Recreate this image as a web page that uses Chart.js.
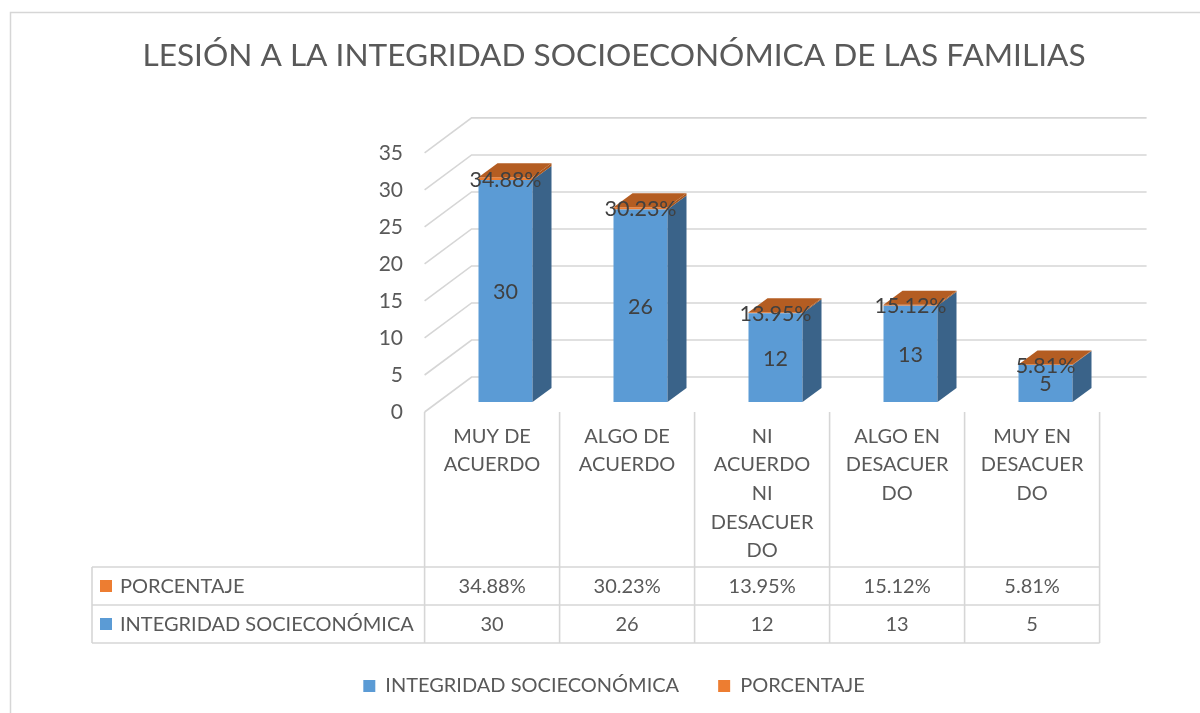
<!DOCTYPE html>
<html>
<head>
<meta charset="utf-8">
<script src="https://cdn.jsdelivr.net/npm/chart.js@4.4.0/dist/chart.umd.min.js"></script>
<style>
  html, body { margin: 0; padding: 0; background: #fff; }
</style>
</head>
<body>
<canvas id="myChart" width="1200" height="713"></canvas>
<script>
// data
const categories = [
  ['MUY DE', 'ACUERDO'],
  ['ALGO DE', 'ACUERDO'],
  ['NI', 'ACUERDO', 'NI', 'DESACUER', 'DO'],
  ['ALGO EN', 'DESACUER', 'DO'],
  ['MUY EN', 'DESACUER', 'DO']
];
const integridad = [30, 26, 12, 13, 5];
const porcentaje = [0.3488, 0.3023, 0.1395, 0.1512, 0.0581];
const yTicks = [0, 5, 10, 15, 20, 25, 30, 35];
const seriesNames = ['INTEGRIDAD SOCIECONÓMICA', 'PORCENTAJE'];
const chartTitle = 'LESIÓN A LA INTEGRIDAD SOCIOECONÓMICA DE LAS FAMILIAS';

const BLUE = '#5B9BD5', BLUE_SIDE = '#3A6389';
const ORANGE = '#ED7D31', ORANGE_SIDE = '#A9561D', ORANGE_TOP = '#B45D22';
const TEXT = '#595959', LABEL = '#404040', GRID = '#D6D6D6';
const FONT = 'Lato';

// fake 3d: offsets of the front plane, back wall and bar depth from the bar plane
const FRONT = { dx: -13.4, dy: 10 };
const BACK = { dx: 33.6, dy: -25 };
const DEPTH = { dx: 19, dy: -14 };

const pct = v => (v * 100).toFixed(2) + '%';

const threeD = {
  id: 'threeD',
  beforeDraw(chart) {
    const ctx = chart.ctx;
    ctx.save();
    ctx.fillStyle = '#fff';
    ctx.fillRect(0, 0, chart.width, chart.height);
    ctx.strokeStyle = GRID;
    ctx.lineWidth = 1.5;
    ctx.strokeRect(10.5, 12.5, 1400, 900);
    ctx.restore();
  },
  beforeDatasetsDraw(chart) {
    const { ctx, chartArea: a, scales: { y } } = chart;
    ctx.save();
    ctx.strokeStyle = GRID;
    ctx.lineWidth = 1.6;
    y.ticks.forEach(t => {
      const py = y.getPixelForValue(t.value);
      ctx.beginPath();
      ctx.moveTo(a.left + FRONT.dx, py + FRONT.dy);
      ctx.lineTo(a.left + BACK.dx, py + BACK.dy);
      ctx.lineTo(a.right + BACK.dx, py + BACK.dy);
      ctx.stroke();
    });
    ctx.restore();
  },
  afterDatasetsDraw(chart) {
    const ctx = chart.ctx;
    const n = chart.data.datasets.length;
    ctx.save();
    chart.data.datasets.forEach((ds, i) => {
      chart.getDatasetMeta(i).data.forEach(el => {
        const { x, y, base, width } = el.getProps(['x', 'y', 'base', 'width'], true);
        const l = x - width / 2, r = x + width / 2;
        const top = Math.min(y, base), bot = Math.max(y, base);
        ctx.fillStyle = i === 0 ? BLUE_SIDE : ORANGE_SIDE;
        ctx.beginPath();
        ctx.moveTo(r, bot);
        ctx.lineTo(r, top);
        ctx.lineTo(r + DEPTH.dx, top + DEPTH.dy);
        ctx.lineTo(r + DEPTH.dx, bot + DEPTH.dy);
        ctx.closePath();
        ctx.fill();
        if (i === n - 1) {
          ctx.fillStyle = ORANGE_TOP;
          ctx.beginPath();
          ctx.moveTo(l, top);
          ctx.lineTo(r, top);
          ctx.lineTo(r + DEPTH.dx, top + DEPTH.dy);
          ctx.lineTo(l + DEPTH.dx, top + DEPTH.dy);
          ctx.closePath();
          ctx.fill();
        }
      });
    });
    // data labels
    ctx.fillStyle = LABEL;
    ctx.font = '21.5px ' + FONT;
    ctx.textAlign = 'center';
    ctx.textBaseline = 'middle';
    chart.data.datasets.forEach((ds, i) => {
      chart.getDatasetMeta(i).data.forEach((el, j) => {
        const { x, y, base } = el.getProps(['x', 'y', 'base'], true);
        const txt = i === 0 ? String(ds.data[j]) : pct(ds.data[j]);
        ctx.fillText(txt, x, (y + base) / 2 + 1);
      });
    });
    ctx.restore();
  },
  afterDraw(chart) {
    // data table under the category axis
    const { ctx, chartArea: a, scales: { x } } = chart;
    const step = x.getPixelForValue(1) - x.getPixelForValue(0);
    const edges = [];
    for (let i = 0; i <= categories.length; i++) {
      edges.push(x.getPixelForValue(0) - step / 2 + i * step + FRONT.dx);
    }
    const tLeft = 92, tTop = 567, rowH = 38;
    const tBot = tTop + 2 * rowH;
    ctx.save();
    ctx.strokeStyle = GRID;
    ctx.lineWidth = 1.6;
    ctx.beginPath();
    edges.forEach(e => {
      ctx.moveTo(e, a.bottom + FRONT.dy);
      ctx.lineTo(e, tBot);
    });
    ctx.moveTo(tLeft, tTop);
    ctx.lineTo(tLeft, tBot);
    for (let r = 0; r <= 2; r++) {
      ctx.moveTo(tLeft, tTop + r * rowH);
      ctx.lineTo(edges[edges.length - 1], tTop + r * rowH);
    }
    ctx.stroke();

    const rows = [
      { name: seriesNames[1], color: ORANGE, vals: porcentaje.map(pct) },
      { name: seriesNames[0], color: BLUE, vals: integridad.map(String) }
    ];
    ctx.font = '20px ' + FONT;
    ctx.textBaseline = 'middle';
    rows.forEach((row, r) => {
      const cy = tTop + r * rowH + rowH / 2;
      ctx.fillStyle = row.color;
      ctx.fillRect(100, cy - 6, 12, 12);
      ctx.fillStyle = TEXT;
      ctx.textAlign = 'left';
      ctx.fillText(row.name, 120, cy + 1);
      ctx.textAlign = 'center';
      row.vals.forEach((v, j) => {
        ctx.fillText(v, (edges[j] + edges[j + 1]) / 2, cy + 1);
      });
    });
    ctx.restore();
  }
};

const config = {
  type: 'bar',
  data: {
    labels: categories,
    datasets: [
      { label: seriesNames[0], data: integridad, backgroundColor: BLUE },
      { label: seriesNames[1], data: porcentaje, backgroundColor: ORANGE }
    ]
  },
  options: {
    responsive: false,
    animation: false,
    barPercentage: 0.4,
    categoryPercentage: 1,
    layout: { padding: { left: 115, right: 87, top: 0, bottom: 7 } },
    plugins: {
      tooltip: { enabled: false },
      title: {
        display: true,
        text: chartTitle,
        color: TEXT,
        font: { family: FONT, size: 31.6, weight: 'normal' },
        padding: { top: 37, bottom: 68 }
      },
      legend: {
        position: 'bottom',
        labels: {
          boxWidth: 12, boxHeight: 12, padding: 39,
          color: TEXT, font: { family: FONT, size: 20 }
        }
      }
    },
    scales: {
      x: {
        stacked: true,
        grid: { display: false, drawTicks: false },
        border: { display: false },
        ticks: {
          autoSkip: false, maxRotation: 0, padding: 20, labelOffset: FRONT.dx,
          color: TEXT, font: { family: FONT, size: 20, lineHeight: 1.43 }
        },
        afterFit: s => {
          const lh = (s.chart.legend && s.chart.legend.height) || 71;
          s.height = 713 - 7 - lh - 402;
        }
      },
      y: {
        stacked: true,
        min: yTicks[0],
        max: yTicks[yTicks.length - 1],
        grid: { display: false, drawTicks: false },
        border: { display: false },
        ticks: {
          stepSize: yTicks[1] - yTicks[0], padding: 35, labelOffset: FRONT.dy,
          color: TEXT, font: { family: FONT, size: 21 }
        },
        afterFit: s => { s.width = 323; }
      }
    }
  },
  plugins: [threeD]
};

new Chart(document.getElementById('myChart'), config);
</script>
</body>
</html>
